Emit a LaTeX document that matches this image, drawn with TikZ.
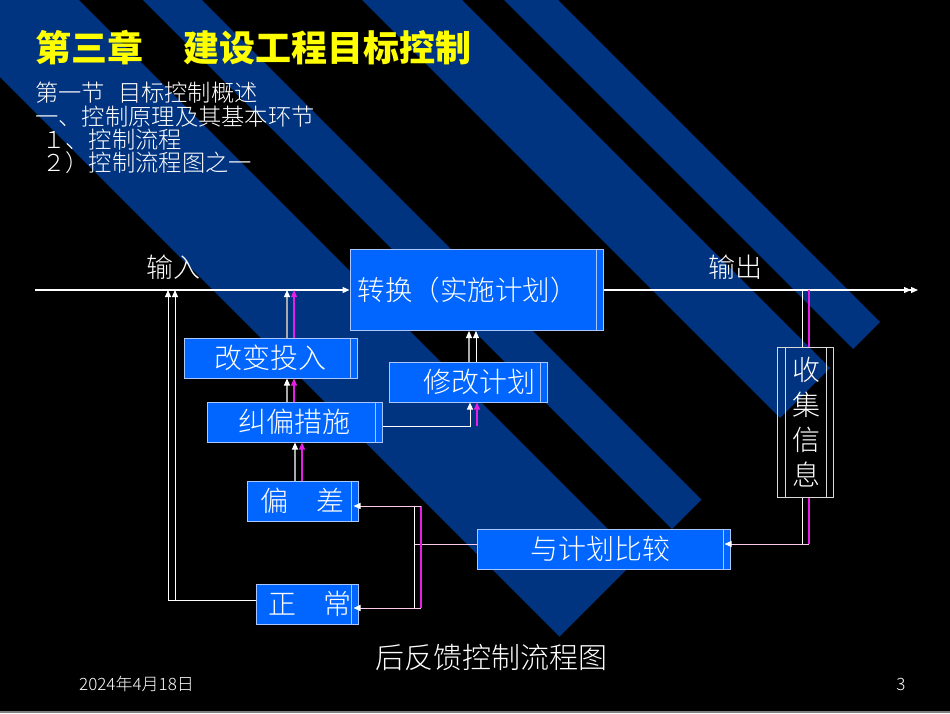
\documentclass[tikz,border=0pt]{standalone}
\usepackage{fontspec}
\newfontfamily\cjk{Noto Sans CJK SC}
\newfontfamily\cjkl{Noto Sans CJK SC}[UprightFont=* Light]
\usetikzlibrary{arrows.meta,calc}
\definecolor{stripeblue}{RGB}{0,51,128}
\definecolor{boxblue}{RGB}{0,102,255}
\definecolor{boxline}{RGB}{170,200,255}
\definecolor{mag}{RGB}{230,30,230}
\definecolor{titley}{RGB}{255,255,0}
\definecolor{glin}{RGB}{170,170,170}
\definecolor{pinkw}{RGB}{255,205,235}
\newcommand\mystripe[3]{\fill[stripeblue] ({(#1+#3)/2},{(#3-#1)/2}) -- ({(#2+#3)/2},{(#3-#2)/2}) -- ({(#2-400)/2},{(-400-#2)/2}) -- ({(#1-400)/2},{(-400-#1)/2}) -- cycle;}
\begin{document}
\begin{tikzpicture}[x=1pt,y=-1pt,
  bx/.style={draw=boxline, fill=boxblue, line width=1pt, inner sep=0pt, text=white,
    font=\cjkl\fontsize{28}{34}\selectfont,
    path picture={\draw[boxline,line width=0.8pt] ([xshift=-7pt]path picture bounding box.north east) -- ([xshift=-7pt]path picture bounding box.south east);}},
  collbox/.style={draw=white!85!black, line width=1pt, inner sep=0pt,
    path picture={\draw[white!85!black,line width=0.8pt] ([xshift=-7pt]path picture bounding box.north east) -- ([xshift=-7pt]path picture bounding box.south east);
      \draw[white!85!black,line width=0.8pt] ([xshift=8pt]path picture bounding box.north west) -- ([xshift=8pt]path picture bounding box.south west);}},
  ttl/.style={text=titley, inner sep=0pt, anchor=west, font=\cjk\bfseries\fontsize{36}{40}\selectfont},
  sub/.style={text=white, inner sep=0pt, anchor=west, font=\cjkl\fontsize{23.3}{28}\selectfont},
  lbl/.style={text=white, inner sep=0pt, anchor=west, font=\cjkl\fontsize{27}{32}\selectfont},
  coltxt/.style={text=white, inner sep=0pt, align=center, font=\cjkl\fontsize{28}{35}\selectfont},
  captxt/.style={text=white, inner sep=0pt, font=\cjkl\fontsize{29}{34}\selectfont},
  foot/.style={text=white, inner sep=0pt, font=\cjkl\fontsize{17}{20}\selectfont},
  wl/.style={draw=white, line width=1pt},
  gl/.style={draw=glin, line width=1.2pt},
  ml/.style={draw=mag, line width=1.2pt},
  pl/.style={draw=pinkw, line width=1pt},
  wa/.style={-{Triangle[length=7pt,width=6pt,color=white]}},
  ma/.style={-{Triangle[length=7pt,width=6pt,color=mag]}}
]
\useasboundingbox (0,0) rectangle (950,713);
\fill[black] (0,0) rectangle (950,713);
\begin{scope}
\clip (0,0) rectangle (950,713);
\mystripe{-77}{79}{1196}
\mystripe{143}{202}{1201}
\mystripe{362}{462}{1198}
\mystripe{504}{558}{1202}
\end{scope}
\draw[gray, line width=1.5pt] (0,712) -- (950,712);

% title and headings
\node[ttl] (t1) at (35,48) {第三章};
\node[ttl] (t2) at (183,48) {建设工程目标控制};
\node[sub] (s1) at (35,93) {第一节\hspace{13pt}目标控制概述};
\node[sub] (s2) at (35,117) {一、控制原理及其基本环节};
\node[sub] (s3) at (42,140) {１、控制流程};
\node[sub] (s4) at (42,163) {２）控制流程图之一};

% labels on the main line
\node[lbl] (inL) at (146,267) {输入};
\node[lbl] (outL) at (708,267) {输出};

% boxes
\node[bx, minimum width=253pt, minimum height=81pt, font=\cjkl\fontsize{27.5}{34}\selectfont] (conv) at (476.5,290) {转换（实施计划）\hspace*{18pt}};
\node[bx, minimum width=173pt, minimum height=40pt] (chg) at (270.5,358) {改变投入};
\node[bx, minimum width=158pt, minimum height=40pt] (mod) at (468,382) {\hspace*{22pt}修改计划};
\node[bx, minimum width=175pt, minimum height=40pt] (corr) at (294.5,422) {纠偏措施};
\node[bx, minimum width=111pt, minimum height=40pt] (dev) at (302.5,501) {偏\hspace{1em}差};
\node[bx, minimum width=102pt, minimum height=40pt] (norm) at (307,604) {\hspace*{6pt}正\hspace{1em}常};
\node[bx, minimum width=253pt, minimum height=40pt] (cmp) at (603.5,549) {与计划比较\hspace*{7pt}};
\node[collbox, minimum width=56pt, minimum height=150pt] (coll) at (805,422) {};
\node[coltxt] (collT) at (806,422) {收\\集\\信\\息};

% caption and footer
\node[captxt] (capt) at (491,657) {后反馈控制流程图};
\node[foot, anchor=west] (date) at (79,684) {2024年4月18日};
\node[foot] (pg) at (901,684) {3};

% coordinates
\coordinate (start) at (35,290);
\coordinate (end) at (918,290);
\coordinate (fbA) at (168,290);
\coordinate (fbB) at (175,290);
\coordinate (jW) at (414,544);
\coordinate (jM) at (421,544);

% main line
\draw[wl, line width=1.3pt, wa] (start) -- (conv.west);
\draw[wl, line width=1.3pt, -{Triangle[length=7pt,width=6pt]Triangle[length=7pt,width=6pt]}] (conv.east) -- (end);

% feedback from normal
\draw[wl,wa] ([yshift=4pt]norm.west) -| (fbA);
\draw[wl,wa] ([yshift=4pt]norm.west) -| (fbB);

% change input -> main line
\draw[gl,wa] ([xshift=-7.5pt]corr.north |- chg.north) -- ([xshift=-7.5pt]corr.north |- start);
\draw[ml,ma] ([xshift=-0.5pt]corr.north |- chg.north) -- ([xshift=-0.5pt]corr.north |- start);
% correction -> change input
\draw[gl,wa] ([xshift=-7.5pt]corr.north) -- ([xshift=-7.5pt]corr.north |- chg.south);
\draw[ml,ma] ([xshift=-0.5pt]corr.north) -- ([xshift=-0.5pt]corr.north |- chg.south);
% deviation -> correction
\draw[gl,wa] ([xshift=-7.5pt]dev.north) -- ([xshift=-7.5pt]dev.north |- corr.south);
\draw[ml,ma] ([xshift=-0.5pt]dev.north) -- ([xshift=-0.5pt]dev.north |- corr.south);
% correction -> modify plan
\draw[wl,wa] ([yshift=-4pt]corr.east) -| ([xshift=2pt]mod.south);
\draw[ml,ma] ([yshift=-4pt,xshift=9pt]mod.south |- corr.east) -- ([xshift=9pt]mod.south);
% modify plan -> conversion
\draw[gl,wa] ([xshift=1pt]mod.north) -- ([xshift=1pt]mod.north |- conv.south);
\draw[wl,wa] ([xshift=8pt]mod.north) -- ([xshift=8pt]mod.north |- conv.south);

% collect info
\draw[wl] ([xshift=-3pt]coll.north) -- ([xshift=-3pt]coll.north |- conv.east);
\draw[ml] ([xshift=4pt]coll.north) -- ([xshift=4pt]coll.north |- conv.east);
\draw[ml] ([xshift=4pt]coll.south) -- ([xshift=4pt]coll.south |- jW);
\draw[wl] ([xshift=-3pt]coll.south) -- ([xshift=-3pt]coll.south |- jW);
\draw[pl,wa] ([xshift=4pt]coll.south |- jW) -- ([yshift=5pt,xshift=-6pt]cmp.east);

% compare -> deviation / normal
\draw[pl] ([yshift=5pt]cmp.west) -- (jW);
\draw[wl] ([yshift=-5pt]dev.east -| jW) -- ([yshift=-4pt]norm.east -| jW);
\draw[ml] ([yshift=-5pt]dev.east -| jM) -- ([yshift=-4pt]norm.east -| jM);
\draw[pl,wa] ([yshift=-5pt]dev.east -| jM) -- ([yshift=-5pt,xshift=-5pt]dev.east);
\draw[pl,wa] ([yshift=-4pt]norm.east -| jM) -- ([yshift=-4pt,xshift=-5pt]norm.east);
\end{tikzpicture}
\end{document}
